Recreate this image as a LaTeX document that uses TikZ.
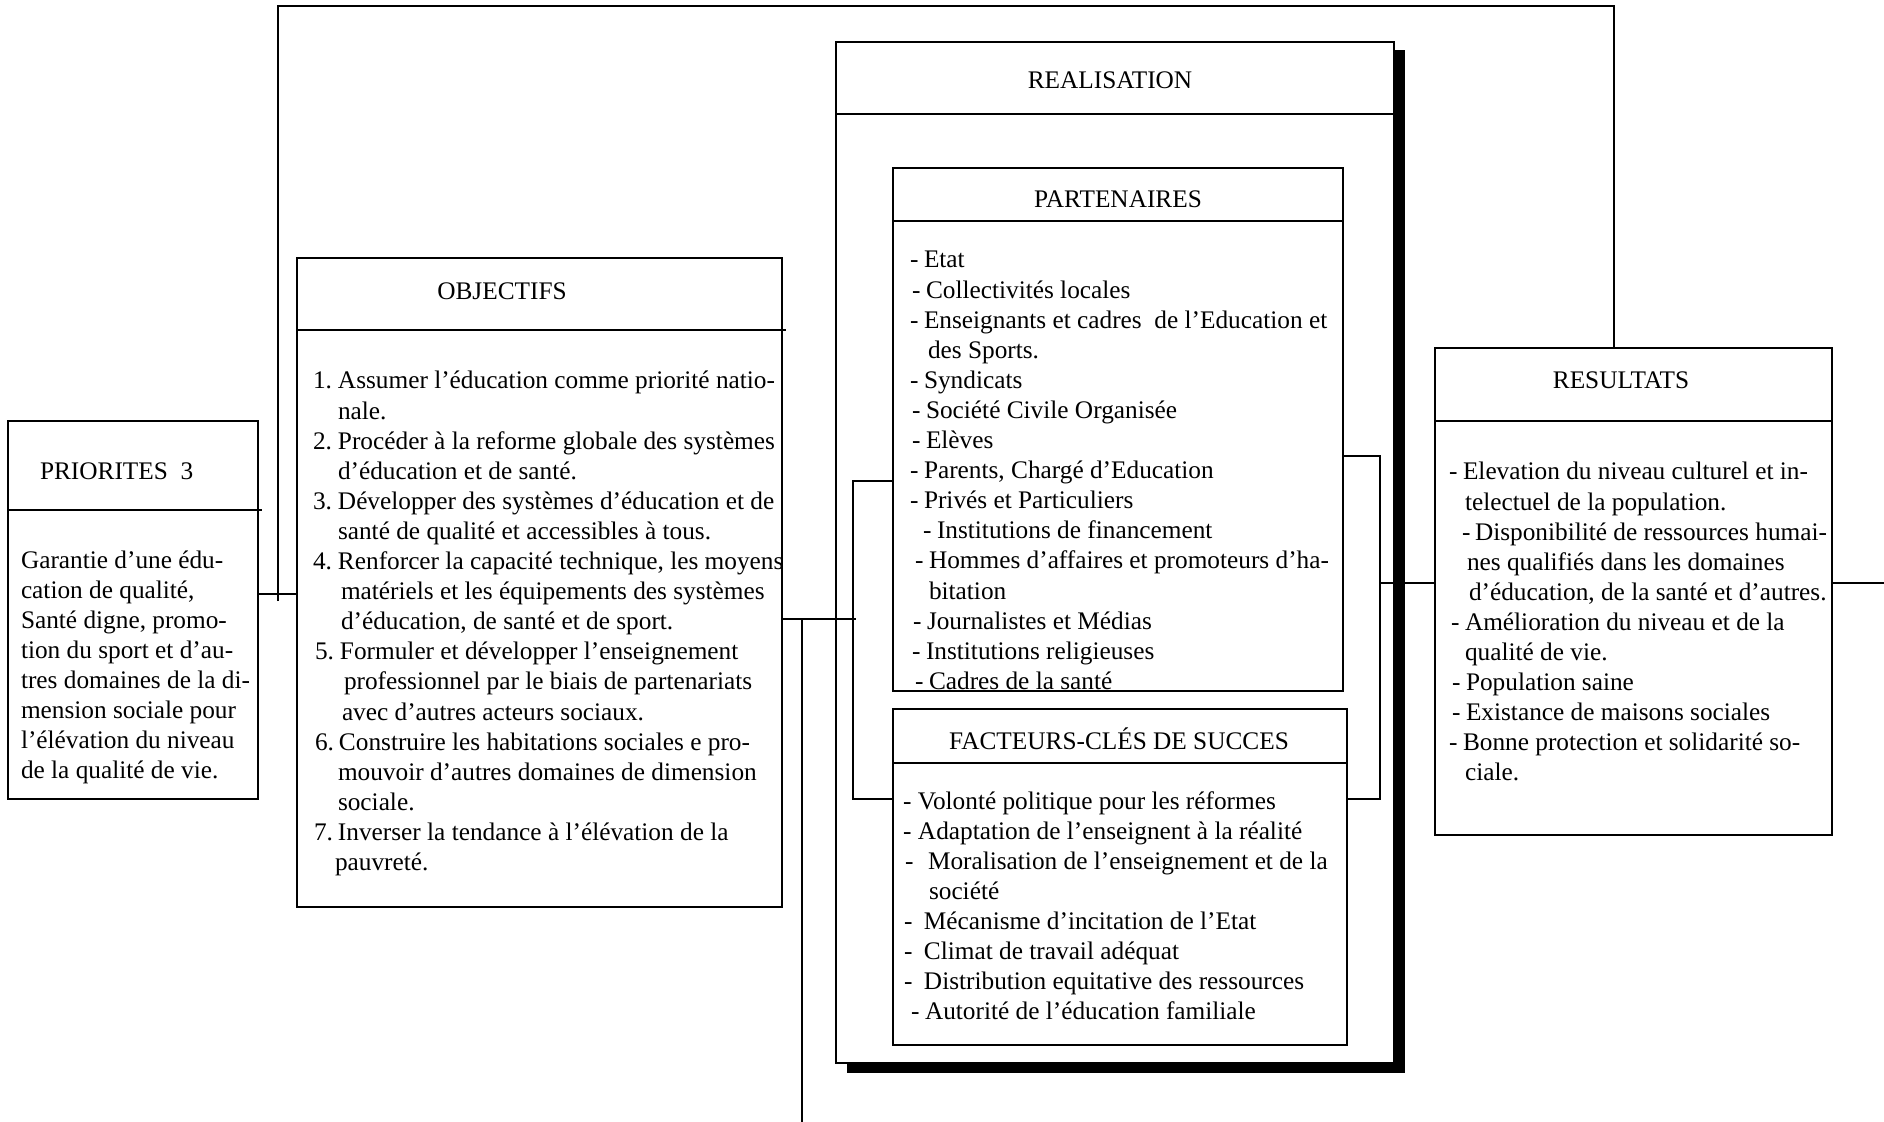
\documentclass[tikz,border=0pt]{standalone}
\usepackage{fontspec}
\setmainfont{Liberation Serif}
\newcommand\tline[4]{\hspace*{\dimexpr0.5pt*#1\relax}\makebox[\dimexpr0.5pt*#2\relax][l]{#3}#4}
\newcommand\lines[1]{\begin{tabular}[t]{@{}l@{}}#1\end{tabular}}
\begin{document}
\begin{tikzpicture}[x=0.5pt,y=-0.5pt,
  every node/.style={font=\fontsize{12.65}{15.05}\selectfont, inner sep=0pt, outer sep=0pt},
  box/.style={draw, line width=1pt, anchor=north west},
  ln/.style={line width=1pt},
  thinln/.style={line width=0.6pt},
  txt/.style={anchor=base west},
  head/.style={anchor=base}]
\useasboundingbox (0,0) rectangle (1884,1122);

% shadow of REALISATION
\fill (1394,50) rectangle (1405,1073);
\fill (847,1063) rectangle (1405,1073);

% boxes
\node[box, minimum width=125pt, minimum height=189pt] (pri) at (8,421) {};
\node[box, minimum width=242.5pt, minimum height=324.5pt] (obj) at (297,258) {};
\node[box, minimum width=279pt, minimum height=510.5pt] (real) at (836,42) {};
\node[box, minimum width=225pt, minimum height=261.5pt] (part) at (893,168) {};
\node[box, minimum width=227pt, minimum height=168pt] (fac) at (893,709) {};
\node[box, minimum width=198.5pt, minimum height=243.5pt] (res) at (1435,348) {};

% header separators
\draw[ln] (pri.west |- 0,510) -- (262,510);
\draw[ln] (obj.west |- 0,330) -- (786,330);
\draw[ln] (real.west |- 0,114) -- (real.east |- 0,114);
\draw[ln] (part.west |- 0,221) -- (part.east |- 0,221);
\draw[ln] (fac.west |- 0,763) -- (fac.east |- 0,763);
\draw[ln] (res.west |- 0,421) -- (res.east |- 0,421);

% headers
\node[txt] (prih) at (40,480) {PRIORITES\ \ 3};
\node[head] (objh) at (502,300) {OBJECTIFS};
\node[head] (realh) at (1110,89) {REALISATION};
\node[head] (parth) at (1118,208) {PARTENAIRES};
\node[head] (fach) at (1119,749) {FACTEURS-CLÉS DE SUCCES};
\node[head] (resh) at (1621,389) {RESULTATS};

% bodies
\node[txt] (pritxt) at (21,568) {\lines{%
Garantie d’une édu-\\
cation de qualité,\\
Santé digne, promo-\\
tion du sport et d’au-\\
tres domaines de la di-\\
mension sociale pour\\
l’élévation du niveau\\
de la qualité de vie.}};

\node[txt] (objtxt) at (313,389) {\lines{%
\tline{0}{25}{1.}{Assumer l’éducation comme priorité natio-}\\
\tline{25}{0}{}{nale.}\\
\tline{0}{25}{2.}{Procéder à la reforme globale des systèmes}\\
\tline{25}{0}{}{d’éducation et de santé.}\\
\tline{0}{25}{3.}{Développer des systèmes d’éducation et de}\\
\tline{25}{0}{}{santé de qualité et accessibles à tous.}\\
\tline{0}{25}{4.}{Renforcer la capacité technique, les moyens}\\
\tline{28}{0}{}{matériels et les équipements des systèmes}\\
\tline{28}{0}{}{d’éducation, de santé et de sport.}\\
\tline{2}{25}{5.}{Formuler et développer l’enseignement}\\
\tline{31}{0}{}{professionnel par le biais de partenariats}\\
\tline{29}{0}{}{avec d’autres acteurs sociaux.}\\
\tline{2}{24}{6.}{Construire les habitations sociales e pro-}\\
\tline{25}{0}{}{mouvoir d’autres domaines de dimension}\\
\tline{25}{0}{}{sociale.}\\
\tline{1}{24}{7.}{Inverser la tendance à l’élévation de la}\\
\tline{22}{0}{}{pauvreté.}}};

\node[txt] (parttxt) at (910,268) {\lines{%
\tline{0}{14}{-}{Etat}\\
\tline{2}{14}{-}{Collectivités locales}\\
\tline{0}{14}{-}{Enseignants et cadres\ \ de l’Education et}\\
\tline{18}{0}{}{des Sports.}\\
\tline{0}{14}{-}{Syndicats}\\
\tline{2}{14}{-}{Société Civile Organisée}\\
\tline{2}{14}{-}{Elèves}\\
\tline{0}{14}{-}{Parents, Chargé d’Education}\\
\tline{0}{14}{-}{Privés et Particuliers}\\
\tline{13}{14}{-}{Institutions de financement}\\
\tline{5}{14}{-}{Hommes d’affaires et promoteurs d’ha-}\\
\tline{19}{0}{}{bitation}\\
\tline{3}{14}{-}{Journalistes et Médias}\\
\tline{2}{14}{-}{Institutions religieuses}\\
\tline{5}{14}{-}{Cadres de la santé}}};

\node[txt] (factxt) at (903,809) {\lines{%
\tline{0}{15}{-}{Volonté politique pour les réformes}\\
\tline{0}{15}{-}{Adaptation de l’enseignent à la réalité}\\
\tline{2}{23}{-}{Moralisation de l’enseignement et de la}\\
\tline{26}{0}{}{société}\\
\tline{1}{20}{-}{Mécanisme d’incitation de l’Etat}\\
\tline{1}{20}{-}{Climat de travail adéquat}\\
\tline{1}{20}{-}{Distribution equitative des ressources}\\
\tline{8}{14}{-}{Autorité de l’éducation familiale}}};

\node[txt] (restxt) at (1449,480) {\lines{%
\tline{0}{14}{-}{Elevation du niveau culturel et in-}\\
\tline{16}{0}{}{telectuel de la population.}\\
\tline{13}{13}{-}{Disponibilité de ressources humai-}\\
\tline{18}{0}{}{nes qualifiés dans les domaines}\\
\tline{20}{0}{}{d’éducation, de la santé et d’autres.}\\
\tline{2}{14}{-}{Amélioration du niveau et de la}\\
\tline{16}{0}{}{qualité de vie.}\\
\tline{3}{14}{-}{Population saine}\\
\tline{3}{14}{-}{Existance de maisons sociales}\\
\tline{0}{14}{-}{Bonne protection et solidarité so-}\\
\tline{16}{0}{}{ciale.}}};

% junction coordinates
\coordinate (tl) at (278,6);
\coordinate (tr) at (1614,6);
\coordinate (lb) at (278,601);
\coordinate (oj) at (856,619);
\coordinate (ov) at (802,619);
\coordinate (ovb) at (802,1122);
\coordinate (lj1) at (853,481);
\coordinate (lj2) at (853,799);
\coordinate (rj1) at (1380,456);
\coordinate (rj2) at (1380,799);
\coordinate (rjm) at (1380,583);
\coordinate (edge) at (1884,583);

% connectors
\draw[ln] (lb) -- (tl) -- (tr) -- (tr |- res.north);
\draw[ln] (pri.east |- 0,594) -- (obj.west |- 0,594);
\draw[ln] (obj.east |- ov) -- (oj);
\draw[thinln] (ov) -- (ovb);
\draw[ln] (part.west |- lj1) -- (lj1) -- (lj2) -- (fac.west |- lj2);
\draw[ln] (part.east |- rj1) -- (rj1) -- (rj2) -- (fac.east |- rj2);
\draw[ln] (rjm) -- (res.west |- rjm);
\draw[ln] (res.east |- edge) -- (edge);
\end{tikzpicture}
\end{document}
